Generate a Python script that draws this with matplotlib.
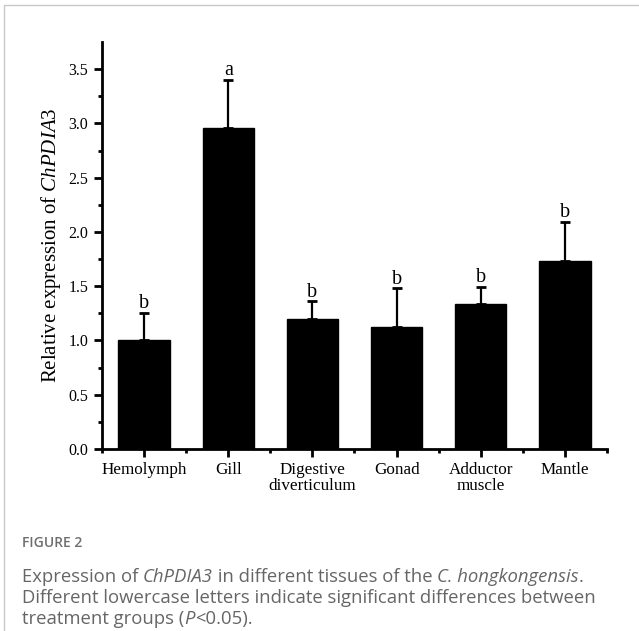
import matplotlib
matplotlib.use("Agg")
import matplotlib.pyplot as plt
from matplotlib.patches import Rectangle
from matplotlib.ticker import FixedLocator
import numpy as np

# ---- data ----
tissues = ['Hemolymph', 'Gill', 'Digestive\ndiverticulum', 'Gonad', 'Adductor\nmuscle', 'Mantle']
means = [1.00, 2.96, 1.20, 1.12, 1.34, 1.73]
errs = [0.25, 0.44, 0.16, 0.36, 0.15, 0.36]
letters = ['b', 'a', 'b', 'b', 'b', 'b']
yticks = [0.0, 0.5, 1.0, 1.5, 2.0, 2.5, 3.0, 3.5]

plt.rcParams['mathtext.fontset'] = 'custom'
plt.rcParams['mathtext.rm'] = 'Liberation Serif'
plt.rcParams['mathtext.it'] = 'Liberation Serif:italic'
plt.rcParams['font.family'] = ['Liberation Serif']

W, H = 639, 631
fig = plt.figure(figsize=(W / 100, H / 100), dpi=100)
fig.patch.set_facecolor('white')

# light frame (top and left edges visible)
fig.patches.append(Rectangle((4 / W, -0.1), 1.2, 1 - 5 / H + 0.1, transform=fig.transFigure,
                             fill=False, edgecolor='#c8c8c8', linewidth=1.0))

left, right, bottom, top = 102 / W, 607 / W, 1 - 449 / H, 1 - 42 / H
ax = fig.add_axes([left, bottom, right - left, top - bottom])

x = np.arange(len(tissues))
ax.bar(x, means, width=0.61, color='black', edgecolor='black', zorder=2)
lower = [0] * len(errs)
ax.errorbar(x, means, yerr=[lower, errs], fmt='none', ecolor='black',
            elinewidth=1.6, capsize=3.8, capthick=2.0, zorder=1)

for xi, m, e, lab in zip(x, means, errs, letters):
    ax.annotate(lab, (xi, m + e), xytext=(0, 3.5), textcoords='offset points',
                ha='center', va='baseline', fontsize=14.5, family='Liberation Serif')

ax.set_xlim(-0.5, 5.5)
ax.set_ylim(0, 3.75)
ax.set_yticks(yticks)
ax.set_yticklabels([f'{v:.1f}' for v in yticks])
ax.yaxis.set_minor_locator(FixedLocator(np.arange(0.25, 3.75, 0.5)))
ax.set_xticks(x)
ax.set_xticklabels(tissues, fontsize=12.3, linespacing=1.0)
ax.xaxis.set_minor_locator(FixedLocator(np.arange(-0.5, 5.6, 1.0)))

for s in ['top', 'right']:
    ax.spines[s].set_visible(False)
for s in ['left', 'bottom']:
    ax.spines[s].set_linewidth(2.0)

ax.tick_params(axis='both', which='major', direction='out', length=5.5, width=2.0, color='black')
ax.tick_params(axis='both', which='minor', direction='out', length=3.0, width=2.0, color='black')
ax.tick_params(axis='y', which='major', labelsize=11.5, pad=4.5)
ax.tick_params(axis='x', which='major', pad=3.5)

ax.set_ylabel(r'Relative expression of $\mathit{ChPDIA3}$', fontsize=15)
ax.yaxis.set_label_coords(-0.078, 0.5)

# ---- caption ----
cap_color = '#666666'
fig.text(22 / W, 1 - 543 / H, 'FIGURE 2', fontsize=10, color='#6e6e6e',
         family=['Open Sans'], fontweight='semibold', va='center', ha='left')

lines = [
    [('Expression of ', 'normal'), ('ChPDIA3', 'italic'), (' in different tissues of the ', 'normal'),
     ('C. hongkongensis', 'italic'), ('.', 'normal')],
    [('Different lowercase letters indicate significant differences between', 'normal')],
    [('treatment groups (', 'normal'), ('P', 'italic'), ('<0.05).', 'normal')],
]
line_y = [577, 598, 619]
fig.canvas.draw()
renderer = fig.canvas.get_renderer()
for runs, yy in zip(lines, line_y):
    xpos = 22 / W
    for txt, style in runs:
        t = fig.text(xpos, 1 - yy / H, txt, fontsize=13.3, color=cap_color,
                     family=['Open Sans'], style=style, va='center', ha='left')
        bb = t.get_window_extent(renderer=renderer)
        xpos += bb.width / W

fig.savefig('out.png', dpi=100, facecolor='white')
